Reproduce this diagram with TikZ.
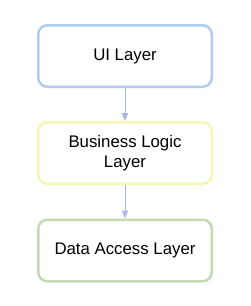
\documentclass[tikz,border=0pt]{standalone}
\usepackage{fontspec}
\setmainfont{Liberation Sans}
\usetikzlibrary{arrows.meta}
\definecolor{bluebd}{HTML}{AECDF0}
\definecolor{yellowbd}{HTML}{F6F6B4}
\definecolor{greenbd}{HTML}{C3D9B1}
\definecolor{arrowc}{HTML}{A8B6E6}
\tikzset{
  layer/.style={draw, line width=2.5pt, rounded corners=9pt, fill=white,
    minimum width=173.5pt, minimum height=61.5pt, align=center,
    font=\fontsize{16.8pt}{20.5pt}\selectfont, text=black},
  conn/.style={draw=arrowc, line width=1pt, -{Triangle[width=6pt,length=8pt]}}
}
\begin{document}
\begin{tikzpicture}[x=1pt,y=1pt]
\useasboundingbox (0,0) rectangle (250,-306);
\fill[white] (0,0) rectangle (250,-306);
\node[layer, draw=bluebd] (ui) at (125,-56) {UI Layer};
\node[layer, draw=yellowbd] (bl) at (125,-153) {Business Logic\\Layer};
\node[layer, draw=greenbd] (da) at (125,-250.5) {Data Access Layer};
\draw[conn] (ui.south) -- (bl.north);
\draw[conn] (bl.south) -- (da.north);
\end{tikzpicture}
\end{document}
